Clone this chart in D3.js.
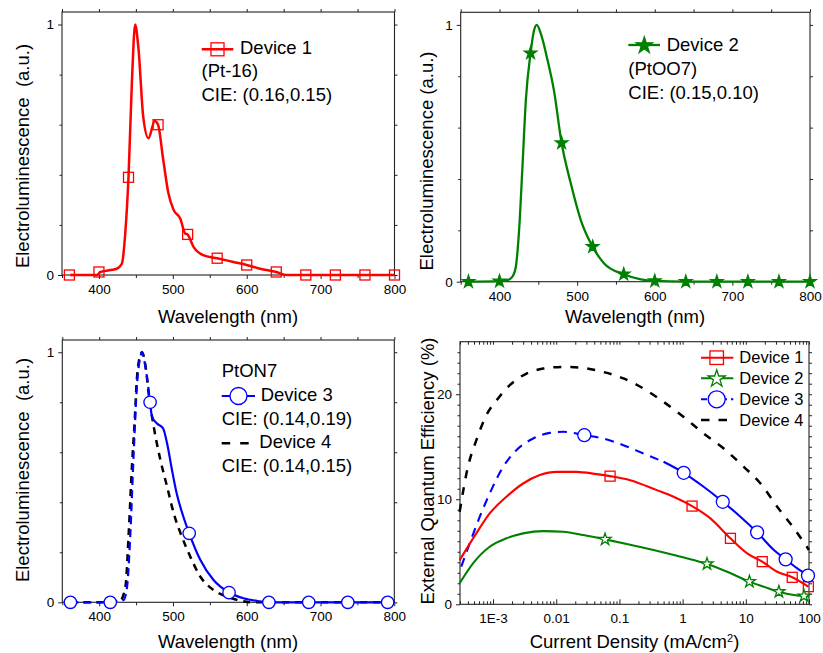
<!DOCTYPE html>
<html>
<head>
<meta charset="utf-8">
<script src="https://cdn.jsdelivr.net/npm/d3@7"></script>
<style>
  body { margin: 0; background: #fff; }
  svg text { font-family: "Liberation Sans", Arial, Helvetica, sans-serif; fill: #000; }
</style>
</head>
<body>
<svg id="chart" width="823" height="653"></svg>
<script>
// ---- Electroluminescence spectra (normalised) ----
// Device 1 (Pt-16)
const d1Wl = [361, 380, 397, 402, 412, 424, 431, 435.6, 440, 444.6, 449, 453.6, 460, 467, 475.5, 480, 487, 494, 501, 510, 516.7, 520, 528, 541, 560, 582, 600, 618, 640, 654, 700, 800];
const d1El = [0, 0, 0, 0.012, 0.018, 0.025, 0.045, 0.166, 0.39, 0.77, 1.0, 0.9, 0.63, 0.546, 0.615, 0.6, 0.46, 0.326, 0.26, 0.226, 0.166, 0.162, 0.112, 0.079, 0.067, 0.052, 0.04, 0.025, 0.012, 0, 0, 0];
const d1MarkWl = [360, 400, 440, 480, 520, 560, 600, 640, 680, 720, 760, 800];
const d1MarkEl = [0, 0.012, 0.39, 0.6, 0.162, 0.067, 0.04, 0.012, 0, 0, 0, 0];

// Device 2 (PtOO7)
const d2Wl = [361, 400, 410, 416.7, 421, 425, 429.6, 434, 440, 444.6, 448, 453, 461.8, 470, 480, 491.8, 504.7, 520, 534.8, 560, 582, 600, 640, 800];
const d2El = [0, 0.002, 0.006, 0.02, 0.058, 0.19, 0.45, 0.71, 0.89, 0.98, 1.0, 0.968, 0.864, 0.747, 0.54, 0.383, 0.24, 0.136, 0.071, 0.029, 0.009, 0.003, 0, 0];
const d2MarkWl = [360, 400, 440, 480, 520, 560, 600, 640, 680, 720, 760, 800];
const d2MarkEl = [0, 0.002, 0.89, 0.54, 0.136, 0.029, 0.003, 0, 0, 0, 0, 0];

// Device 3 (PtON7)
const d3Wl = [361, 400, 433, 437.8, 442, 446.8, 451, 455.9, 458, 462.6, 469, 471.6, 478, 486.5, 492, 498.6, 505, 514, 522, 537, 555, 576, 595.5, 618, 630, 800];
const d3El = [0, 0, 0.009, 0.063, 0.26, 0.6, 0.86, 0.983, 1.0, 0.943, 0.8, 0.743, 0.716, 0.696, 0.636, 0.53, 0.436, 0.343, 0.276, 0.17, 0.089, 0.039, 0.016, 0.004, 0, 0];
const d3MarkWl = [361, 415, 469, 522, 576, 630, 684, 737, 791];
const d3MarkEl = [0, 0, 0.8, 0.276, 0.039, 0, 0, 0, 0];

// Device 4 (PtON7)
const d4Wl = [361, 400, 428, 435.6, 440, 444.6, 448.2, 451, 455.9, 458, 463.5, 467, 473.9, 482.9, 492, 501, 512, 523.4, 537, 555, 573, 591, 609, 800];
const d4El = [0, 0, 0.005, 0.063, 0.276, 0.556, 0.73, 0.89, 0.99, 1.0, 0.93, 0.836, 0.703, 0.57, 0.463, 0.356, 0.263, 0.183, 0.103, 0.049, 0.023, 0.007, 0, 0];

// ---- External quantum efficiency vs current density ----
const eqe1J = [2.96e-4, 5.43e-4, 8.85e-4, 1.63e-3, 2.99e-3, 5.5e-3, 0.0101, 0.021, 0.0437, 0.0711, 0.148, 0.392, 0.719, 1.41, 2.75, 5.71, 10.5, 18.2, 31.4, 54.3, 97.7];
const eqe1 = [4.2, 6.75, 8.65, 10.24, 11.5, 12.3, 12.61, 12.61, 12.39, 12.2, 11.82, 10.87, 10.24, 9.35, 8.18, 6.28, 4.85, 4.06, 3.1, 2.57, 1.68];
const eqe1MarkJ = [0.0711, 1.41, 5.71, 18.2, 54.3, 97.7];
const eqe1Mark = [12.2, 9.35, 6.28, 4.06, 2.57, 1.68];

const eqe2J = [2.96e-4, 4.82e-4, 8.85e-4, 1.63e-3, 2.99e-3, 6.22e-3, 0.0129, 0.0269, 0.0592, 0.131, 0.347, 0.813, 1.5, 2.43, 5.06, 11.4, 19.3, 33.4, 57.8, 83.4, 100];
const eqe2 = [2.0, 3.9, 5.48, 6.28, 6.75, 6.97, 6.91, 6.59, 6.18, 5.74, 5.17, 4.63, 4.22, 3.84, 3.1, 2.16, 1.68, 1.2, 0.89, 0.79, 0.75];
const eqe2MarkJ = [0.0592, 2.43, 11.4, 33.4, 83.4];
const eqe2Mark = [6.18, 3.84, 2.16, 1.2, 0.79];

const eqe3J = [3.14e-4, 4.27e-4, 6.17e-4, 8.85e-4, 1.45e-3, 2.34e-3, 4.32e-3, 7.94e-3, 0.0129, 0.0278, 0.0557, 0.1156, 0.24, 0.499, 1.04, 2.15, 4.32, 8.22, 15.1, 27.8, 42.7, 65.3, 96.4];
const eqe3 = [3.58, 5.8, 8.34, 10.55, 13.1, 14.67, 15.78, 16.32, 16.42, 16.1, 15.78, 15.15, 14.36, 13.57, 12.52, 11.19, 9.76, 8.34, 6.85, 5.17, 4.28, 3.42, 2.73];
const eqe3MarkJ = [0.0278, 1.04, 4.32, 15.1, 42.7, 96.4];
const eqe3Mark = [16.1, 12.52, 9.76, 6.85, 4.28, 2.73];

const eqe4J = [2.96e-4, 4.01e-4, 5.43e-4, 7.83e-4, 1.2e-3, 1.84e-3, 3.39e-3, 6.22e-3, 0.0129, 0.0269, 0.0557, 0.1156, 0.24, 0.499, 1.04, 2.15, 4.48, 9.29, 17.1, 31.4, 57.8, 100];
const eqe4 = [8.8, 13.1, 15.6, 18.0, 19.6, 20.86, 21.97, 22.44, 22.6, 22.5, 22.12, 21.5, 20.54, 19.27, 17.84, 16.26, 14.83, 13.09, 11.5, 9.29, 7.23, 5.17];

// ---- Tick labels ----
const wlTicks = [400, 500, 600, 700, 800];
const elTicks = [0, 1];
const jTicks = [1e-3, 0.01, 0.1, 1, 10, 100];
const jTickLabels = ["1E-3", "0.01", "0.1", "1", "10", "100"];
const eqeTicks = [0, 10, 20];

const RED = "#ff0000", GREEN = "#008000", BLUE = "#0000ff", BLACK = "#000000";
const svg = d3.select("#chart");

function frame(box) {
  svg.append("rect")
    .attr("x", box.l).attr("y", box.t)
    .attr("width", box.r - box.l).attr("height", box.b - box.t)
    .attr("fill", "none").attr("stroke", "#222").attr("stroke-width", 1.1);
}

function styleAxis(g, size) {
  g.select(".domain").remove();
  g.selectAll("line").attr("stroke", "#222").attr("stroke-width", 1);
  g.selectAll("text").attr("font-size", size).attr("font-family", null).attr("fill", "#000");
  g.attr("font-family", null).attr("font-size", null);
}

function axes(box, x, y, o) {
  // bottom: labelled majors + minors
  svg.append("g").attr("transform", `translate(0,${box.b})`)
    .call(d3.axisBottom(x).tickValues(o.xMajor).tickFormat(o.xFmt)
      .tickSize(o.xIn ? -5 : 4).tickPadding(o.xIn ? 9.5 : 5.5))
    .call(g => styleAxis(g, 13.5));
  svg.append("g").attr("transform", `translate(0,${box.b})`)
    .call(d3.axisBottom(x).tickValues(o.xMinor).tickFormat("").tickSize(o.xIn ? -3 : 3))
    .call(g => styleAxis(g, 13.5));
  // left: labelled majors + minors (outward)
  svg.append("g").attr("transform", `translate(${box.l},0)`)
    .call(d3.axisLeft(y).tickValues(o.yMajor).tickFormat(d3.format("d")).tickSize(4).tickPadding(4))
    .call(g => styleAxis(g, 13.5));
  svg.append("g").attr("transform", `translate(${box.l},0)`)
    .call(d3.axisLeft(y).tickValues(o.yMinor).tickFormat("").tickSize(2.5))
    .call(g => styleAxis(g, 13.5));
  // mirrored top / right ticks
  svg.append("g").attr("transform", `translate(0,${box.t})`)
    .call(d3.axisTop(x).tickValues(o.xMajor.concat(o.xMinor)).tickFormat("").tickSize(o.xIn ? -3 : 3))
    .call(g => styleAxis(g, 13.5));
  svg.append("g").attr("transform", `translate(${box.r},0)`)
    .call(d3.axisRight(y).tickValues(o.yMajor.concat(o.yMinor)).tickFormat("").tickSize(3))
    .call(g => styleAxis(g, 13.5));
}

function xTitle(text, cx, base) {
  return svg.append("text").attr("x", cx).attr("y", base)
    .attr("text-anchor", "middle").attr("font-size", 18.5).text(text);
}
function yTitle(text, bx, cy) {
  svg.append("text").attr("transform", `translate(${bx},${cy}) rotate(-90)`)
    .attr("text-anchor", "middle").attr("font-size", 18.5)
    .style("white-space", "pre").text(text);
}
function label(text, x, y, size) {
  return svg.append("text").attr("x", x).attr("y", y).attr("font-size", size)
    .style("white-space", "pre").text(text);
}

function path(pts, line, color, width, dash) {
  svg.append("path").datum(pts).attr("d", line)
    .attr("fill", "none").attr("stroke", color).attr("stroke-width", width)
    .attr("stroke-linejoin", "round")
    .attr("stroke-dasharray", dash || null);
}
function squares(pts, x, y, s, color) {
  svg.append("g").selectAll("rect").data(pts).join("rect")
    .attr("x", d => x(d[0]) - s / 2).attr("y", d => y(d[1]) - s / 2)
    .attr("width", s).attr("height", s)
    .attr("fill", "none").attr("stroke", color).attr("stroke-width", 1.3);
}
function circles(pts, x, y, r, color) {
  svg.append("g").selectAll("circle").data(pts).join("circle")
    .attr("cx", d => x(d[0])).attr("cy", d => y(d[1])).attr("r", r)
    .attr("fill", "#fff").attr("stroke", color).attr("stroke-width", 1.3);
}
function stars(pts, x, y, r, color, filled) {
  const sym = d3.symbol(d3.symbolStar, r * r / 0.8908);
  svg.append("g").selectAll("path").data(pts).join("path")
    .attr("transform", d => `translate(${x(d[0])},${y(d[1])})`)
    .attr("d", sym)
    .attr("fill", filled ? color : "#fff").attr("stroke", color).attr("stroke-width", 1.3);
}

const wlMinor = [350, 450, 550, 650, 750];
const elMinor = [0.2, 0.4, 0.6, 0.8];

// ================= Panel 1: Device 1 =================
{
  const box = { l: 62, t: 12, r: 394.5, b: 275 };
  const x = d3.scaleLinear().domain([350, 800]).range([box.l, box.r]);
  const y = d3.scaleLinear().domain([0, 1.05]).range([box.b, box.t]);
  frame(box);
  axes(box, x, y, { xMajor: wlTicks, xMinor: wlMinor, xFmt: d3.format("d"), yMajor: elTicks, yMinor: elMinor });
  const line = d3.line().x(d => x(d[0])).y(d => y(d[1])).curve(d3.curveMonotoneX);
  path(d3.zip(d1Wl, d1El), line, RED, 2.5);
  squares(d3.zip(d1MarkWl, d1MarkEl), x, y, 10, RED);
  xTitle("Wavelength (nm)", 228, 323);
  yTitle("Electroluminescence  (a.u.)", 29, 156);
  // legend
  svg.append("line").attr("x1", 201.7).attr("x2", 233.3).attr("y1", 49.3).attr("y2", 49.3)
    .attr("stroke", RED).attr("stroke-width", 2.5);
  squares([[0, 0]], () => 217.5, () => 49.3, 13, RED);
  label("Device 1", 240, 54.3, 18.5);
  label("(Pt-16)", 201.5, 77.3, 18.5);
  label("CIE: (0.16,0.15)", 201.5, 100.5, 18.5);
}

// ================= Panel 2: Device 2 =================
{
  const box = { l: 460.7, t: 12.3, r: 810, b: 281.7 };
  const x = d3.scaleLinear().domain([350, 800]).range([box.l, box.r]);
  const y = d3.scaleLinear().domain([0, 1.049]).range([box.b, box.t]);
  frame(box);
  axes(box, x, y, { xMajor: wlTicks, xMinor: wlMinor, xFmt: d3.format("d"), yMajor: elTicks, yMinor: elMinor });
  const line = d3.line().x(d => x(d[0])).y(d => y(d[1])).curve(d3.curveMonotoneX);
  path(d3.zip(d2Wl, d2El), line, GREEN, 2.3);
  stars(d3.zip(d2MarkWl, d2MarkEl), x, y, 6.5, GREEN, true);
  xTitle("Wavelength (nm)", 635, 323);
  yTitle("Electroluminescence (a.u.)", 433, 161);
  svg.append("line").attr("x1", 628.3).attr("x2", 660).attr("y1", 45).attr("y2", 45)
    .attr("stroke", GREEN).attr("stroke-width", 2.3);
  stars([[0, 0]], () => 644.3, () => 45.5, 8.6, GREEN, true);
  label("Device 2", 666.7, 50.7, 18.5);
  label("(PtOO7)", 628.3, 75, 18.5);
  label("CIE: (0.15,0.10)", 628.3, 99, 18.5);
}

// ================= Panel 3: Devices 3 & 4 =================
{
  const box = { l: 62.3, t: 340, r: 394.3, b: 602.3 };
  const x = d3.scaleLinear().domain([350, 800]).range([box.l, box.r]);
  const y = d3.scaleLinear().domain([0, 1.049]).range([box.b, box.t]);
  frame(box);
  axes(box, x, y, { xMajor: wlTicks, xMinor: wlMinor, xFmt: d3.format("d"), yMajor: elTicks, yMinor: elMinor });
  const line = d3.line().x(d => x(d[0])).y(d => y(d[1])).curve(d3.curveMonotoneX);
  path(d3.zip(d4Wl, d4El), line, BLACK, 2.5, "7,6");
  const p3 = d3.zip(d3Wl, d3El);
  path(p3.filter(d => d[0] <= 469), line, BLUE, 2.2, "8,5");
  path(p3.filter(d => d[0] >= 469), line, BLUE, 2.2);
  circles(d3.zip(d3MarkWl, d3MarkEl), x, y, 6.2, BLUE);
  xTitle("Wavelength (nm)", 228, 648);
  yTitle("Electroluminescence  (a.u.)", 29, 470);
  label("PtON7", 221.7, 376.7, 18.5);
  svg.append("line").attr("x1", 221.7).attr("x2", 255).attr("y1", 396).attr("y2", 396)
    .attr("stroke", BLUE).attr("stroke-width", 2.2);
  circles([[0, 0]], () => 238.5, () => 396, 8.5, BLUE);
  label("Device 3", 260.7, 400.7, 18.5);
  label("CIE: (0.14,0.19)", 221.7, 425, 18.5);
  svg.append("line").attr("x1", 221.7).attr("x2", 255).attr("y1", 443.3).attr("y2", 443.3)
    .attr("stroke", BLACK).attr("stroke-width", 2.5).attr("stroke-dasharray", "8.5,10");
  label("Device 4", 259.3, 448.3, 18.5);
  label("CIE: (0.14,0.15)", 221.7, 471.7, 18.5);
}

// ================= Panel 4: EQE =================
{
  const box = { l: 460, t: 341.7, r: 809, b: 604.3 };
  const x = d3.scaleLog().domain([3e-4, 100]).range([box.l, box.r]);
  const y = d3.scaleLinear().domain([0, 25]).range([box.b, box.t]);
  frame(box);
  const jMinor = [];
  for (const dec of [1e-4, 1e-3, 1e-2, 1e-1, 1, 10]) {
    for (let k = 2; k <= 9; k++) {
      const v = dec * k;
      if (v >= 3e-4 && v <= 100) jMinor.push(v);
    }
  }
  const eqeMinor = d3.range(1, 25).filter(v => v % 10 !== 0);
  axes(box, x, y, {
    xMajor: jTicks, xMinor: jMinor, xIn: true,
    xFmt: d => jTickLabels[jTicks.indexOf(d)],
    yMajor: eqeTicks, yMinor: eqeMinor
  });
  const line = d3.line().x(d => x(d[0])).y(d => y(d[1])).curve(d3.curveMonotoneX);
  path(d3.zip(eqe4J, eqe4), line, BLACK, 2.5, "8,9");
  const p3 = d3.zip(eqe3J, eqe3);
  path(p3.filter(d => d[0] <= 0.5), line, BLUE, 2.1, "9,7");
  path(p3.filter(d => d[0] >= 0.499), line, BLUE, 2.1);
  path(d3.zip(eqe1J, eqe1), line, RED, 2.1);
  path(d3.zip(eqe2J, eqe2), line, GREEN, 2.1);
  squares(d3.zip(eqe1MarkJ, eqe1Mark), x, y, 10, RED);
  stars(d3.zip(eqe2MarkJ, eqe2Mark), x, y, 6.3, GREEN, false);
  circles(d3.zip(eqe3MarkJ, eqe3Mark), x, y, 6.5, BLUE);

  const t = xTitle("Current Density (mA/cm", 634.5, 648);
  t.append("tspan").attr("baseline-shift", "super").attr("font-size", 11).text("2");
  t.append("tspan").text(")");
  yTitle("External Quantum Efficiency (%)", 434, 471);

  // legend
  const lx1 = 701, lx2 = 733.3, mx = 716.7, tx = 739.3;
  svg.append("line").attr("x1", lx1).attr("x2", lx2).attr("y1", 357.7).attr("y2", 357.7)
    .attr("stroke", RED).attr("stroke-width", 2.1);
  squares([[0, 0]], () => mx, () => 357.7, 13.5, RED);
  label("Device 1", tx, 363.3, 16.5);
  svg.append("line").attr("x1", lx1).attr("x2", lx2).attr("y1", 378.3).attr("y2", 378.3)
    .attr("stroke", GREEN).attr("stroke-width", 2.1);
  stars([[0, 0]], () => mx, () => 378.8, 9, GREEN, false);
  label("Device 2", tx, 384.3, 16.5);
  svg.append("line").attr("x1", lx1).attr("x2", lx2).attr("y1", 399.3).attr("y2", 399.3)
    .attr("stroke", BLUE).attr("stroke-width", 2.1).attr("stroke-dasharray", "6,4");
  circles([[0, 0]], () => mx, () => 399.3, 8.5, BLUE);
  label("Device 3", tx, 405, 16.5);
  svg.append("line").attr("x1", lx1).attr("x2", lx2).attr("y1", 420).attr("y2", 420)
    .attr("stroke", BLACK).attr("stroke-width", 2.5).attr("stroke-dasharray", "8.5,9");
  label("Device 4", tx, 426, 16.5);
}
</script>
</body>
</html>
